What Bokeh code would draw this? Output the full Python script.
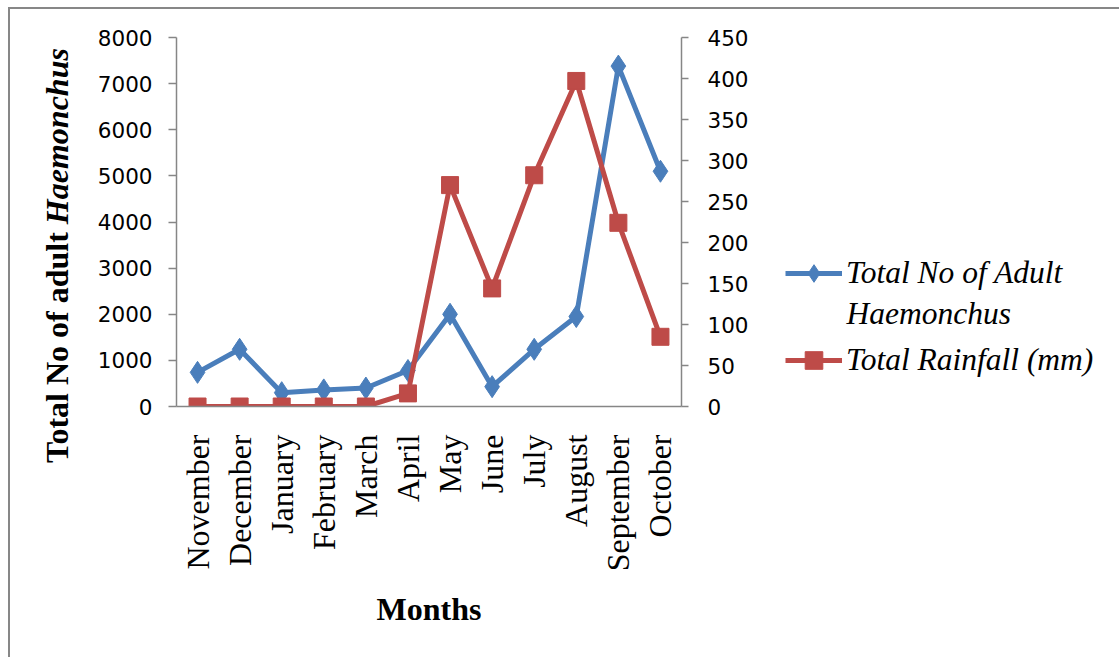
import math
from bokeh.plotting import figure
from bokeh.layouts import row
from bokeh.models import (Range1d, LinearAxis, FixedTicker, Legend, LegendItem,
                          Label, FactorRange, Div)
from bokeh.embed import file_html
from bokeh.resources import INLINE

months = ["November", "December", "January", "February", "March", "April",
          "May", "June", "July", "August", "September", "October"]
haemonchus = [740, 1240, 300, 360, 400, 780, 2000, 430, 1240, 1950, 7380, 5100]
rainfall = [0, 0, 0, 0, 0, 16, 270, 144, 282, 397, 224, 85]
left_ticks = [0, 1000, 2000, 3000, 4000, 5000, 6000, 7000, 8000]
right_ticks = [0, 50, 100, 150, 200, 250, 300, 350, 400, 450]
y_title_plain = "Total No of adult "
y_title_italic = "Haemonchus"
legend_blue = ["Total No of Adult", "Haemonchus"]
legend_red = "Total Rainfall (mm)"

BLUE = "#4A7EBB"
RED = "#BE4B48"
AXIS = "#868686"
SERIF = "Liberation Serif"
SANS = "DejaVu Sans"
H = 648
TOP, BOTTOM = 28, 251
NAN = float("nan")

# ---- y-axis title (bold, with italic genus name) ----
ytitle = Div(
    text=('<div style="display:inline-block; white-space:nowrap; '
          'transform-origin:0 0; transform:translate(31px,454px) rotate(-90deg); '
          "font-family:'Liberation Serif'; font-size:32px; font-weight:bold; "
          'line-height:1; color:black; margin:0; padding:0;">'
          f'{y_title_plain}<i>{y_title_italic}</i></div>'),
    width=80, height=H, margin=0)

# ---- main chart ----
p = figure(width=680, height=H, x_range=FactorRange(*months, range_padding=0),
           y_range=Range1d(0, 8000), output_backend="svg", toolbar_location=None,
           min_border_left=86, min_border_top=TOP, min_border_right=89,
           min_border_bottom=BOTTOM)
p.extra_y_ranges = {"rain": Range1d(0, 450)}
p.outline_line_color = None
p.grid.grid_line_color = None

ya = p.yaxis[0]
ya.ticker = FixedTicker(ticks=left_ticks)
ya.axis_line_color = AXIS
ya.axis_line_width = 1.5
ya.major_tick_line_color = AXIS
ya.major_tick_line_width = 1.5
ya.major_tick_in = 0
ya.major_tick_out = 8
ya.minor_tick_line_color = None
ya.major_label_text_font = SANS
ya.major_label_text_font_size = "21.5px"
ya.major_label_text_color = "black"
ya.major_label_standoff = 16

ra = LinearAxis(y_range_name="rain", ticker=FixedTicker(ticks=right_ticks))
ra.axis_line_color = AXIS
ra.axis_line_width = 1.5
ra.major_tick_line_color = AXIS
ra.major_tick_line_width = 1.5
ra.major_tick_in = 0
ra.major_tick_out = 7
ra.minor_tick_line_color = None
ra.major_label_text_font = SANS
ra.major_label_text_font_size = "21.5px"
ra.major_label_text_color = "black"
ra.major_label_standoff = 19
p.add_layout(ra, "right")

xa = p.xaxis[0]
xa.axis_line_color = AXIS
xa.axis_line_width = 1.5
xa.major_tick_line_color = None
xa.minor_tick_line_color = None
xa.major_label_orientation = math.pi / 2
xa.major_label_text_font = SERIF
xa.major_label_text_font_size = "32px"
xa.major_label_text_color = "black"
xa.major_label_standoff = 22
xa.axis_label = "Months"
xa.axis_label_text_font = SERIF
xa.axis_label_text_font_style = "bold"
xa.axis_label_text_font_size = "32px"
xa.axis_label_text_color = "black"
xa.axis_label_standoff = 17

p.line(months, haemonchus, line_color=BLUE, line_width=5)
p.scatter(months, haemonchus, marker="diamond", size=22, fill_color=BLUE,
          line_color=BLUE)
p.line(months, rainfall, line_color=RED, line_width=5, y_range_name="rain")
p.scatter(months, rainfall, marker="square", size=17, fill_color=RED,
          line_color=RED, y_range_name="rain")

# ---- legend panel ----
LW = 1109 - 80 - 680
lf = figure(width=LW, height=H, x_range=Range1d(0, LW), y_range=Range1d(0, 369),
            output_backend="svg", toolbar_location=None,
            x_axis_location=None, y_axis_location=None,
            min_border_left=0, min_border_right=0,
            min_border_top=TOP, min_border_bottom=BOTTOM)
lf.outline_line_color = None
lf.grid.grid_line_color = None
# legend keys only (NaN data: nothing is plotted, only the legend swatch)
kb1 = lf.line(x=[NAN], y=[NAN], line_color=BLUE, line_width=5)
kb2 = lf.scatter(x=[NAN], y=[NAN], marker="diamond", fill_color=BLUE, line_color=BLUE)
kr1 = lf.line(x=[NAN], y=[NAN], line_color=RED, line_width=5)
kr2 = lf.scatter(x=[NAN], y=[NAN], marker="square", fill_color=RED, line_color=RED)

legend = Legend(items=[LegendItem(label=legend_blue[0], renderers=[kb1, kb2]),
                       LegendItem(label=legend_red, renderers=[kr1, kr2])],
                location=(15, 24))
legend.label_text_font = SERIF
legend.label_text_font_style = "italic"
legend.label_text_font_size = "31.5px"
legend.label_text_color = "black"
legend.glyph_width = 57
legend.glyph_height = 44
legend.label_height = 30
legend.label_standoff = 4
legend.spacing = 43
legend.padding = 0
legend.margin = 0
legend.border_line_alpha = 0
legend.background_fill_alpha = 0
lf.add_layout(legend)

lf.add_layout(Label(x=76, y=406 - 313, text=legend_blue[1], text_font=SERIF,
                    text_font_style="italic", text_font_size="31.5px",
                    text_align="left", text_baseline="middle", text_color="black"))

layout = row(ytitle, p, lf)
layout.styles = {"margin-left": "8px", "margin-top": "7px",
                 "border-left": "2px solid #878787", "border-top": "2px solid #878787"}

open("out.html", "w").write(file_html(layout, INLINE))
